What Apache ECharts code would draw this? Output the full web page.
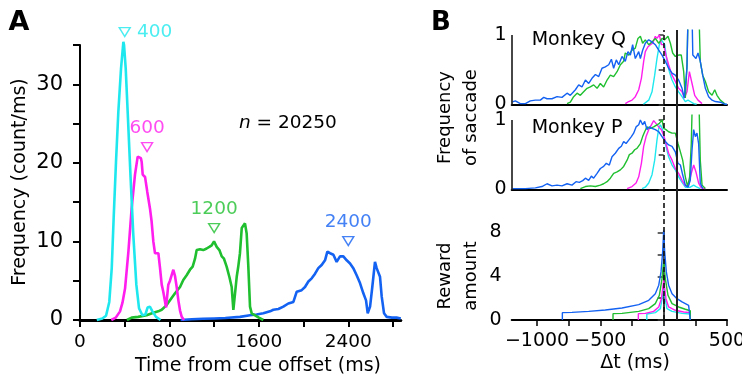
<!DOCTYPE html>
<html><head><meta charset="utf-8">
<script src="https://cdn.jsdelivr.net/npm/echarts@6/dist/echarts.min.js"></script>
<style>html,body{margin:0;padding:0;background:#fff}#c{width:742px;height:377px}</style>
</head><body><div id="c"></div>
<script>
// ---------- Panel A: saccade time histograms (count/ms) ----------
const timeCyan = [150, 200, 233, 262, 284, 301, 322, 343, 367, 388, 394, 409, 429, 453, 477, 504, 528, 558, 585, 605, 625, 648, 680, 720];
const freqCyan = [0, 0.2, 0.55, 2.3, 6.6, 12.9, 20.1, 26.5, 32, 35.4, 35, 32, 25.7, 18, 10.8, 4.5, 1.5, 0.6, 0.7, 1.6, 1.7, 1.1, 0.4, 0];
const timeMagenta = [280, 320, 358, 380, 403, 433, 462, 492, 516, 531, 545, 552, 561, 582, 602, 626, 641, 656, 671, 701, 716, 731, 745, 770, 790, 805, 820, 835, 850, 865, 880, 895, 910, 930];
const freqMagenta = [0, 0.3, 1.1, 2.2, 4, 8.7, 14.2, 18.5, 20.8, 21.0, 20.6, 20.1, 18.5, 18.2, 16.3, 14.2, 12.5, 10, 8.5, 8.5, 6.6, 4.5, 3.6, 1.6, 4.5, 5.0, 5.2, 6.4, 5.6, 4.2, 2.5, 1.2, 0.4, 0];
const timeGreen = [420, 462, 520, 596, 650, 700, 731, 775, 805, 850, 895, 924, 954, 984, 1008, 1029, 1044, 1074, 1103, 1133, 1157, 1178, 1199, 1223, 1247, 1268, 1288, 1312, 1336, 1357, 1372, 1387, 1402, 1416, 1431, 1447, 1461, 1476, 1491, 1506, 1521, 1536, 1566, 1600, 1640];
const freqGreen = [0, 0.3, 0.4, 0.6, 0.9, 1.1, 1.3, 1.9, 2.5, 3.4, 4.2, 5.1, 5.7, 6.4, 6.8, 7.8, 8.9, 9.0, 8.9, 9.1, 9.3, 9.5, 10.0, 9.3, 8.9, 8.1, 7.8, 6.8, 5.5, 4.2, 1.3, 1.5, 5.5, 6.8, 8.5, 11.7, 11.5, 12.3, 11.0, 6.8, 1.7, 0.85, 0.6, 0.3, 0];
const timeBlue = [900, 1000, 1100, 1200, 1300, 1431, 1521, 1580, 1640, 1700, 1730, 1775, 1819, 1864, 1909, 1939, 1983, 2013, 2043, 2073, 2103, 2132, 2162, 2192, 2213, 2237, 2267, 2296, 2326, 2356, 2386, 2416, 2445, 2475, 2505, 2535, 2559, 2574, 2595, 2615, 2639, 2654, 2669, 2684, 2699, 2720, 2744, 2790, 2833, 2870];
const freqBlue = [0, 0.1, 0.15, 0.2, 0.25, 0.4, 0.6, 0.7, 0.85, 1.1, 1.3, 1.4, 1.7, 2.1, 2.3, 3.6, 3.8, 4.2, 4.9, 5.3, 5.9, 6.6, 7.0, 7.6, 8.7, 8.5, 8.3, 7.4, 8.1, 8.1, 7.6, 7.2, 6.6, 5.7, 4.7, 3.4, 2.5, 0.85, 1.7, 4.2, 7.4, 6.6, 6.8, 5.5, 3.0, 0.85, 0.4, 0.3, 0.3, 0.2];
const cueTimes = [400, 600, 1200, 2400];
const cueLabels = ['400', '600', '1200', '2400'];
const sampleSize = '20250';
const ticksAx = [0, 800, 1600, 2400];
const ticksAy = [0, 10, 20, 30];

// ---------- Panel B: Monkey Q normalized saccade frequency ----------
const qCyanDt = [-160, -145, -118, -92, -71, -53, -34, -18, -8, 8, 26, 45, 66, 92, 118, 145, 171, 192, 210, 237, 260];
const qCyanF = [0, 0.01, 0.06, 0.18, 0.42, 0.66, 0.86, 0.93, 0.95, 0.86, 0.62, 0.47, 0.35, 0.25, 0.18, 0.11, 0.04, 0.06, 0.04, 0.01, 0];
const qMagDt = [-303, -276, -250, -224, -197, -176, -158, -145, -124, -105, -87, -66, -53, -34, -18, 0, 18, 39, 66, 92, 118, 145, 163, 184, 203, 224, 245, 271, 303];
const qMagF = [0.01, 0.04, 0.06, 0.11, 0.21, 0.375, 0.62, 0.76, 0.83, 0.86, 0.88, 0.98, 0.95, 1.0, 0.86, 0.86, 0.71, 0.57, 0.42, 0.33, 0.23, 0.18, 0.09, 0.18, 0.47, 0.30, 0.13, 0.06, 0.01];
const qGreenDt = [-763, -737, -711, -684, -658, -632, -605, -579, -553, -526, -500, -474, -447, -421, -395, -368, -342, -316, -303, -276, -250, -224, -203, -184, -166, -145, -118, -92, -66, -39, -13, 8, 34, 53, 71, 92, 118, 139, 158, 171, 184, 195, 230, 276, 289, 308, 329, 355, 382, 403, 421, 447, 487];
const qGreenF = [0.01, 0.03, 0.11, 0.16, 0.13, 0.18, 0.23, 0.25, 0.28, 0.23, 0.30, 0.25, 0.35, 0.42, 0.40, 0.47, 0.57, 0.62, 0.74, 0.71, 0.78, 0.81, 0.95, 0.98, 0.88, 0.93, 0.86, 0.90, 0.95, 0.88, 0.95, 0.93, 0.98, 0.88, 0.74, 0.69, 0.71, 0.71, 0.47, 0.09, 0.57, 1.5, 2, 1.5, 0.62, 0.42, 0.33, 0.18, 0.13, 0.21, 0.13, 0.06, 0];
const qBlueDt = [-1200, -1171, -1132, -1092, -1053, -1013, -974, -947, -921, -882, -842, -803, -763, -737, -697, -671, -645, -618, -592, -566, -539, -513, -487, -461, -434, -413, -395, -374, -355, -329, -303, -282, -263, -245, -224, -197, -184, -166, -145, -118, -92, -66, -39, -13, 13, 39, 66, 92, 118, 145, 163, 184, 194, 212, 222, 230, 255, 271, 289, 308, 329, 355, 382, 408, 447, 487, 500];
const qBlueF = [0.03, 0.05, 0.01, 0.01, 0.05, 0.06, 0.06, 0.10, 0.08, 0.08, 0.11, 0.10, 0.16, 0.13, 0.21, 0.28, 0.25, 0.35, 0.30, 0.375, 0.43, 0.40, 0.52, 0.54, 0.57, 0.65, 0.52, 0.64, 0.57, 0.69, 0.62, 0.76, 0.71, 0.86, 0.66, 0.76, 0.66, 0.78, 0.88, 0.93, 0.90, 0.86, 0.78, 0.71, 0.62, 0.52, 0.45, 0.42, 0.35, 0.23, 0.09, 0.52, 1.5, 2, 1.5, 0.71, 0.66, 0.74, 0.62, 0.42, 0.23, 0.11, 0.06, 0.04, 0.03, 0, 0];

// ---------- Panel B: Monkey P ----------
const pCyanDt = [-171, -145, -118, -92, -71, -53, -39, -26, -8, 13, 39, 66, 92, 118, 145, 171, 210, 237, 263, 289];
const pCyanF = [0.01, 0.03, 0.09, 0.21, 0.42, 0.71, 0.88, 0.93, 0.86, 0.66, 0.47, 0.35, 0.28, 0.18, 0.10, 0.03, 0.03, 0.06, 0.03, 0.01];
const pMagDt = [-289, -250, -218, -197, -176, -158, -139, -118, -97, -79, -61, -39, -18, 0, 18, 39, 66, 92, 118, 145, 171, 197, 218, 237, 255, 276, 297, 329];
const pMagF = [0.01, 0.04, 0.09, 0.18, 0.375, 0.62, 0.76, 0.86, 0.93, 0.99, 0.95, 0.90, 0.86, 0.78, 0.66, 0.52, 0.42, 0.30, 0.23, 0.13, 0.05, 0.06, 0.23, 0.35, 0.25, 0.09, 0.02, 0.01];
const pGreenDt = [-658, -618, -579, -539, -500, -474, -447, -421, -395, -368, -342, -316, -289, -271, -250, -229, -211, -184, -166, -150, -132, -105, -79, -53, -34, -13, 0, 18, 39, 66, 92, 113, 132, 150, 171, 189, 205, 218, 229, 240, 266, 276, 289, 303, 329];
const pGreenF = [0.01, 0.04, 0.05, 0.04, 0.06, 0.08, 0.11, 0.16, 0.23, 0.25, 0.28, 0.33, 0.42, 0.50, 0.52, 0.57, 0.59, 0.66, 0.76, 0.83, 0.90, 0.88, 0.90, 0.93, 0.95, 1.0, 0.88, 0.86, 0.83, 0.81, 0.81, 0.66, 0.54, 0.42, 0.18, 0.04, 0.18, 0.66, 1.5, 2, 2, 1.5, 0.42, 0.06, 0.01];
const pBlueDt = [-1200, -1092, -1013, -961, -921, -882, -842, -803, -763, -724, -692, -666, -639, -618, -592, -571, -553, -526, -500, -474, -453, -429, -408, -382, -355, -334, -316, -297, -276, -255, -237, -218, -197, -184, -166, -150, -132, -113, -92, -66, -39, -13, 13, 39, 66, 92, 113, 132, 150, 171, 192, 210, 224, 237, 250, 263, 276, 289, 308];
const pBlueF = [0.01, 0.01, 0.02, 0.04, 0.08, 0.05, 0.06, 0.05, 0.08, 0.06, 0.11, 0.10, 0.125, 0.16, 0.13, 0.19, 0.16, 0.23, 0.30, 0.33, 0.375, 0.35, 0.47, 0.52, 0.59, 0.62, 0.69, 0.66, 0.71, 0.76, 0.81, 0.90, 0.93, 1.0, 0.93, 0.98, 0.86, 0.90, 0.88, 0.86, 0.83, 0.76, 0.69, 0.64, 0.62, 0.54, 0.375, 0.35, 0.21, 0.06, 0.03, 0.13, 0.57, 0.86, 0.76, 0.81, 0.66, 0.09, 0.01];

// ---------- Panel B: reward amount ----------
const rCyanDt = [-133, -133, -66, -26, 0, 26, 66, 145, 210, 210];
const rCyanV = [0, 0.55, 0.67, 1.04, 2.8, 1.04, 0.79, 0.61, 0.55, 0];
const rMagDt = [-200, -200, -145, -79, -39, -18, 0, 18, 39, 92, 158, 210, 210];
const rMagV = [0, 0.58, 0.61, 0.79, 1.19, 1.95, 3.6, 1.95, 1.19, 0.89, 0.73, 0.67, 0];
const rGreenDt = [-400, -400, -329, -197, -118, -66, -34, -13, 0, 13, 34, 66, 118, 171, 210, 210];
const rGreenV = [0, 0.58, 0.61, 0.79, 1.04, 1.50, 2.26, 3.79, 5.4, 3.79, 2.26, 1.50, 1.19, 0.98, 0.85, 0];
const rBlueDt = [-800, -800, -724, -592, -461, -329, -197, -118, -66, -39, -21, -8, 0, 8, 21, 39, 66, 105, 145, 197, 210, 210];
const rBlueV = [0, 0.67, 0.70, 0.79, 0.92, 1.10, 1.40, 1.80, 2.41, 3.18, 4.40, 6.23, 8.2, 6.23, 4.40, 3.18, 2.41, 1.95, 1.65, 1.34, 1.28, 0];
const ticksBx = [-1000, -500, 0, 500];
const ticksBfreq = [0, 1];
const ticksBreward = [0, 4, 8];
const refLines = [0, 100];

// ---------- build ----------
const F = 'DejaVu Sans';
const COL = { cyan: '#1ee8ee', mag: '#ff1eee', green: '#1fbf30', blue: '#1462f2' };
const zip = (a, b) => a.map((x, i) => [x, b[i]]);
const ln = (xs, ys, color, idx, w, clip, extra) => Object.assign({
  type: 'line', xAxisIndex: idx, yAxisIndex: idx, data: zip(xs, ys),
  showSymbol: false, symbol: 'none', clip: clip, silent: true,
  lineStyle: { color: color, width: w }, itemStyle: { color: color }, z: 3
}, extra || {});
const yLineMark = { silent: true, symbol: ['none', 'none'], label: { show: false }, animation: false,
  lineStyle: { color: '#333', width: 1.8, type: 'solid' },
  data: [[{ coord: [-1200, 0] }, { coord: [-1200, 1] }]] };
const plain = v => String(v);
const minus = v => v < 0 ? '\u2212' + (-v) : String(v);
const markerY = [36.65, 22.0, 11.7, 10.05];
const cueCols = [COL.cyan, COL.mag, COL.green, COL.blue];

const chart = echarts.init(document.getElementById('c'), null, { renderer: 'canvas' });
const bx = (g, extra) => Object.assign({ type: 'value', gridIndex: g, min: -1200, max: 500,
  axisLine: { lineStyle: { color: '#000', width: 2 } }, axisTick: { show: false },
  axisLabel: { show: false }, splitLine: { show: false } }, extra || {});
const by = (g, extra) => Object.assign({ type: 'value', gridIndex: g, min: 0, max: 1.07,
  axisLine: { show: false },
  axisTick: { show: true, customValues: [0, 0.5, 1], length: 5, lineStyle: { color: '#333', width: 1.5 } },
  axisLabel: { customValues: ticksBfreq, formatter: plain, margin: 5, fontSize: 19, fontFamily: F, color: '#000' },
  splitLine: { show: false } }, extra || {});
const G = o => Object.assign({ outerBoundsMode: 'none', containLabel: false }, o);

const option = {
  animation: false,
  backgroundColor: '#fff',
  grid: [
    G({ left: 80, top: 45, width: 320.8, height: 275 }),
    G({ left: 511.7, top: 30.1, width: 215.3, height: 74.2 }),
    G({ left: 511.7, top: 115.1, width: 215.3, height: 74.2 }),
    G({ left: 511.7, top: 232.5, width: 215.3, height: 87.5 }),
    G({ left: 511.7, top: 30, width: 215.3, height: 290 })
  ],
  xAxis: [
    { type: 'value', gridIndex: 0, min: 0, max: 2870,
      axisLine: { lineStyle: { color: '#000', width: 3 } },
      axisTick: { customValues: [0, 400, 800, 1200, 1600, 2000, 2400, 2800], length: 7, lineStyle: { color: '#000', width: 2 } },
      axisLabel: { customValues: ticksAx, formatter: plain, margin: 13, fontSize: 18.5, fontFamily: F, color: '#000' },
      splitLine: { show: false } },
    bx(1), bx(2),
    bx(3, { axisTick: { show: true, customValues: [-1000, -750, -500, -250, 0, 250, 500], length: 6, lineStyle: { color: '#000', width: 1.5 } },
      axisLabel: { show: true, customValues: ticksBx, formatter: minus, margin: 12, fontSize: 19, fontFamily: F, color: '#000' } }),
    { type: 'value', gridIndex: 4, min: -1200, max: 500, show: false }
  ],
  yAxis: [
    { type: 'value', gridIndex: 0, min: 0, max: 35, offset: 8,
      axisLine: { show: true, lineStyle: { color: '#000', width: 2 } },
      axisTick: { show: true, customValues: [0, 5, 10, 15, 20, 25, 30, 35], length: 7, lineStyle: { color: '#000', width: 2 } },
      axisLabel: { customValues: ticksAy, formatter: plain, margin: 9, fontSize: 21, fontFamily: F, color: '#000' },
      splitLine: { show: false } },
    by(1), by(2),
    { type: 'value', gridIndex: 3, min: 0, max: 8,
      axisLine: { show: true, lineStyle: { color: '#333', width: 1.8 } },
      axisTick: { show: true, customValues: [0, 2, 4, 6, 8], length: 6, lineStyle: { color: '#333', width: 1.5 } },
      axisLabel: { customValues: ticksBreward, formatter: plain, margin: 10, fontSize: 19, fontFamily: F, color: '#000' },
      splitLine: { show: false } },
    { type: 'value', gridIndex: 4, min: 0, max: 1, show: false }
  ],
  series: [
    ln(timeBlue, freqBlue, COL.blue, 0, 2.6, true),
    ln(timeGreen, freqGreen, COL.green, 0, 2.6, true),
    ln(timeMagenta, freqMagenta, COL.mag, 0, 2.6, true),
    ln(timeCyan, freqCyan, COL.cyan, 0, 2.6, false),
    { type: 'scatter', xAxisIndex: 0, yAxisIndex: 0, clip: false, silent: true, z: 4,
      symbol: 'triangle', symbolRotate: 180, symbolSize: [11, 9],
      data: cueTimes.map((t, i) => ({
        value: [t, markerY[i]],
        itemStyle: { color: 'rgba(0,0,0,0)', borderColor: cueCols[i], borderWidth: 1.4 },
        label: { show: true, formatter: cueLabels[i], color: cueCols[i], fontSize: 18.5, fontFamily: F,
          position: i === 0 ? 'right' : 'top', distance: i === 0 ? 6 : 4 }
      })) },
    ln(qCyanDt, qCyanF, COL.cyan, 1, 1.4, true, { markLine: yLineMark }),
    ln(qMagDt, qMagF, COL.mag, 1, 1.4, true),
    ln(qGreenDt, qGreenF, COL.green, 1, 1.4, true),
    ln(qBlueDt, qBlueF, COL.blue, 1, 1.4, true),
    ln(pCyanDt, pCyanF, COL.cyan, 2, 1.4, true, { markLine: yLineMark }),
    ln(pMagDt, pMagF, COL.mag, 2, 1.4, true),
    ln(pGreenDt, pGreenF, COL.green, 2, 1.4, true),
    ln(pBlueDt, pBlueF, COL.blue, 2, 1.4, true),
    ln(rCyanDt, rCyanV, COL.cyan, 3, 1.4, false),
    ln(rMagDt, rMagV, COL.mag, 3, 1.4, false),
    ln(rGreenDt, rGreenV, COL.green, 3, 1.4, false),
    ln(rBlueDt, rBlueV, COL.blue, 3, 1.4, false),
    { type: 'line', xAxisIndex: 4, yAxisIndex: 4, data: [], z: 6, silent: true,
      markLine: { silent: true, symbol: ['none', 'none'], label: { show: false }, animation: false,
        data: [
          { xAxis: refLines[0], lineStyle: { type: [5, 3], color: '#111', width: 1.6 } },
          { xAxis: refLines[1], lineStyle: { type: 'solid', color: '#222', width: 2 } }
        ] } }
  ],
  graphic: [
    { type: 'text', x: 19, y: 23, style: { text: 'A', font: 'bold 27px "DejaVu Sans"', fill: '#000', align: 'center', verticalAlign: 'middle' } },
    { type: 'text', x: 441, y: 23, style: { text: 'B', font: 'bold 26px "DejaVu Sans"', fill: '#000', align: 'center', verticalAlign: 'middle' } },
    { type: 'text', x: 20, y: 182, rotation: Math.PI / 2, style: { text: 'Frequency (count/ms)', font: '19px "DejaVu Sans"', fill: '#000', align: 'center', verticalAlign: 'middle' } },
    { type: 'text', x: 258, y: 366, style: { text: 'Time from cue offset (ms)', font: '19px "DejaVu Sans"', fill: '#000', align: 'center', verticalAlign: 'middle' } },
    { type: 'text', x: 239, y: 123, style: { text: 'n', font: 'italic 18.5px "DejaVu Sans"', fill: '#000', align: 'left', verticalAlign: 'middle' } },
    { type: 'text', x: 250.7, y: 123, style: { text: ' = ' + sampleSize, font: '18.5px "DejaVu Sans"', fill: '#000', align: 'left', verticalAlign: 'middle' } },
    { type: 'text', x: 531.7, y: 40, style: { text: 'Monkey Q', font: '19px "DejaVu Sans"', fill: '#000', align: 'left', verticalAlign: 'middle' } },
    { type: 'text', x: 531.7, y: 128, style: { text: 'Monkey P', font: '19px "DejaVu Sans"', fill: '#000', align: 'left', verticalAlign: 'middle' } },
    { type: 'text', x: 458.5, y: 117.5, rotation: Math.PI / 2, style: { text: 'Frequency\nof saccade', font: '18px "DejaVu Sans"', lineHeight: 26.5, fill: '#000', align: 'center', verticalAlign: 'middle' } },
    { type: 'text', x: 458.5, y: 276, rotation: Math.PI / 2, style: { text: 'Reward\namount', font: '18px "DejaVu Sans"', lineHeight: 26.5, fill: '#000', align: 'center', verticalAlign: 'middle' } },
    { type: 'text', x: 635, y: 363, style: { text: '\u0394t (ms)', font: '19px "DejaVu Sans"', fill: '#000', align: 'center', verticalAlign: 'middle' } }
  ]
};
chart.setOption(option);
</script></body></html>
